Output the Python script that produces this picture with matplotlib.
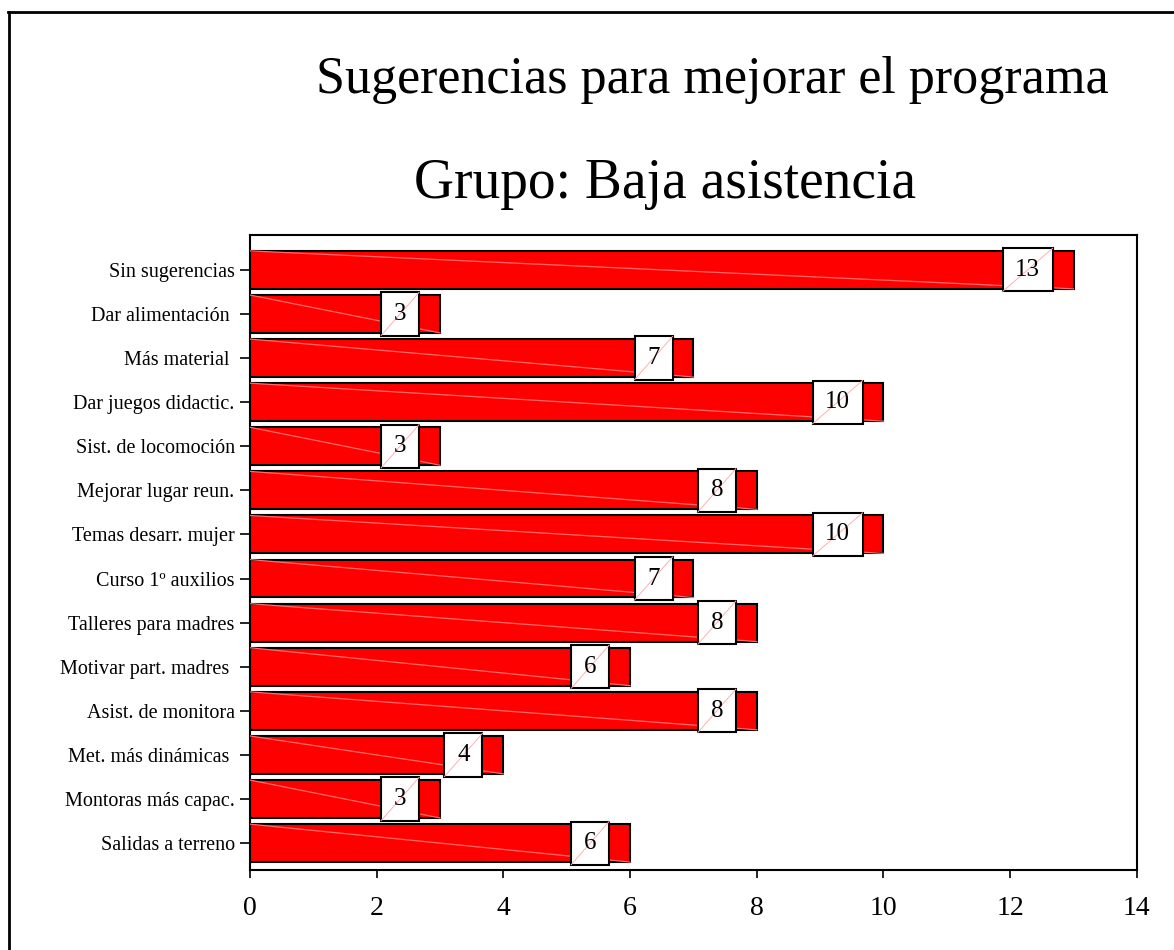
import matplotlib
matplotlib.use("Agg")
import matplotlib.pyplot as plt
from matplotlib.patches import Rectangle
from matplotlib.lines import Line2D

plt.rcParams['font.family'] = ['Liberation Serif', 'DejaVu Serif']

# suggestions (top to bottom) and number of mentions
categories = ["Sin sugerencias", "Dar alimentación ", "Más material ",
              "Dar juegos didactic.", "Sist. de locomoción", "Mejorar lugar reun.",
              "Temas desarr. mujer", "Curso 1º auxilios", "Talleres para madres",
              "Motivar part. madres ", "Asist. de monitora", "Met. más dinámicas ",
              "Montoras más capac.", "Salidas a terreno"]
values = [13, 3, 7, 10, 3, 8, 10, 7, 8, 6, 8, 4, 3, 6]
xticks = [0, 2, 4, 6, 8, 10, 12, 14]

fig = plt.figure(figsize=(11.74, 9.5), dpi=100)
ax = fig.add_axes([0.2129, 0.0842, 0.7555, 0.6684])

pos = list(range(len(categories)))
bar_h = 0.86
ax.barh(pos, values, height=bar_h, color='#ff0000', edgecolor='black',
        linewidth=1.5, zorder=2)

for y, v in zip(pos, values):
    # faint highlight streak across the bar
    ax.plot([0, v], [y - bar_h / 2, y + bar_h / 2], color='#ff6a6a',
            linewidth=0.9, zorder=3)
    # value box just inside the bar end
    w = 0.6 if v < 10 else 0.79
    h = 0.98
    right = v - 0.33
    box = Rectangle((right - w, y - h / 2), w, h, facecolor='white',
                    edgecolor='black', linewidth=1.5, zorder=4)
    ax.add_patch(box)
    ax.plot([right - w, right], [y + h / 2, y - h / 2], color='#ffb0b0',
            linewidth=0.7, zorder=5)
    ax.text(right - w / 2, y, str(v), ha='center', va='center',
            fontsize=18, zorder=6)

ax.set_xlim(0, 14)
ax.set_ylim(13.61, -0.79)
ax.set_xticks(xticks)
ax.set_xticklabels([str(t) for t in xticks], fontsize=20)
ax.set_yticks(pos)
ax.set_yticklabels(categories, fontsize=14.5)
ax.tick_params(axis='x', direction='out', length=6, width=1.2, pad=13)
ax.tick_params(axis='y', direction='out', length=7, width=1.2, pad=4)
for s in ax.spines.values():
    s.set_linewidth(1.5)

fig.text(0.6065, 0.916, "Sugerencias para mejorar el programa",
         ha='center', va='center', fontsize=37.5)
fig.text(0.5664, 0.806, "Grupo: Baja asistencia",
         ha='center', va='center', fontsize=40)

# page frame on the left and top edges
fig.add_artist(Line2D([9 / 1174, 9 / 1174], [0, 1 - 12 / 950],
                      transform=fig.transFigure, color='black', linewidth=2))
fig.add_artist(Line2D([8 / 1174, 1], [1 - 12 / 950, 1 - 12 / 950],
                      transform=fig.transFigure, color='black', linewidth=2))

fig.savefig("out.png", dpi=100)
